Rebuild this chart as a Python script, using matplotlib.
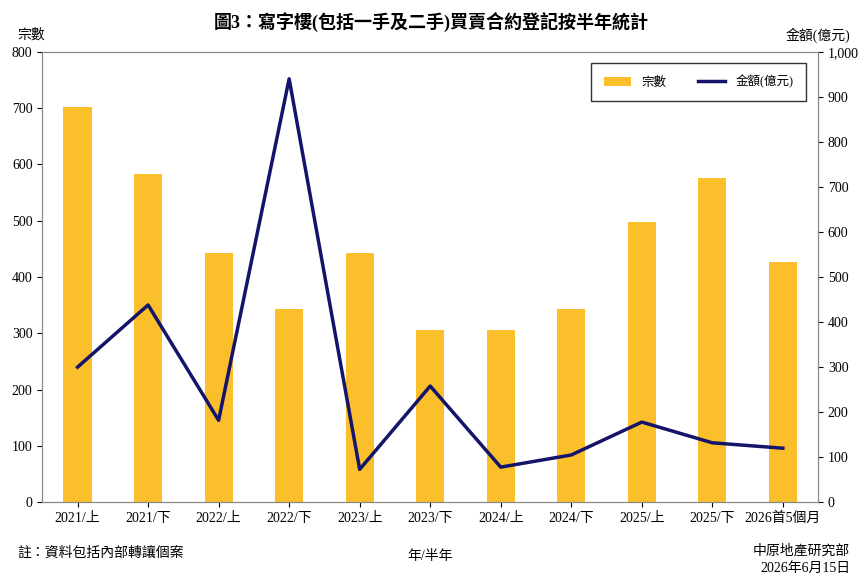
import matplotlib
matplotlib.use("Agg")
import matplotlib.pyplot as plt
from matplotlib.ticker import FuncFormatter

plt.rcParams['font.family'] = ['Liberation Serif', 'Noto Sans CJK TC', 'DejaVu Sans']

categories = ["2021/上", "2021/下", "2022/上", "2022/下", "2023/上", "2023/下",
              "2024/上", "2024/下", "2025/上", "2025/下", "2026首5個月"]
counts = [702, 583, 442, 343, 443, 306, 306, 344, 498, 576, 427]
amounts = [300, 438, 182, 940, 73, 258, 78, 105, 178, 132, 120]

fig = plt.figure(figsize=(8.63, 5.82), dpi=100)
ax = fig.add_axes([0.049, 0.137, 0.899, 0.774])
x = range(len(categories))
ax.bar(x, counts, width=0.4, color="#FBBF2B", label="宗數", zorder=2)
ax.set_ylim(0, 800)
ax.set_yticks(range(0, 801, 100))
ax.set_xlim(-0.5, len(categories) - 0.5)
ax.set_xticks(list(x))
ax.set_xticklabels(categories, fontsize=10)
ax.tick_params(labelsize=10, direction='out')
ax.set_xlabel("年/半年", fontsize=10, labelpad=18)

ax2 = ax.twinx()
ax2.plot(list(x), amounts, color="#14146B", lw=2.5, label="金額(億元)", zorder=3)
ax2.set_ylim(0, 1000)
ax2.set_yticks(range(0, 1001, 100))
ax2.yaxis.set_major_formatter(FuncFormatter(lambda v, p: f"{int(v):,}"))
ax2.tick_params(labelsize=10)

for a in (ax, ax2):
    for s in a.spines.values():
        s.set_color("#888888")

h1, l1 = ax.get_legend_handles_labels()
h2, l2 = ax2.get_legend_handles_labels()
leg = ax2.legend(h1 + h2, l1 + l2, loc="upper right", bbox_to_anchor=(0.992, 0.99),
                 ncol=2, frameon=True, fancybox=False, edgecolor="black",
                 fontsize=9, borderpad=1.0, columnspacing=2.5, handlelength=2.2)

fig.text(0.5, 0.962, "圖3：寫字樓(包括一手及二手)買賣合約登記按半年統計",
         ha="center", va="center", fontsize=13, fontweight="bold")
fig.text(0.02, 0.94, "宗數", fontsize=10, va="center")
fig.text(0.985, 0.94, "金額(億元)", fontsize=10, va="center", ha="right")
fig.text(0.02, 0.05, "註：資料包括內部轉讓個案", fontsize=10, va="center")
fig.text(0.985, 0.053, "中原地產研究部", fontsize=10, va="center", ha="right")
fig.text(0.985, 0.024, "2026年6月15日", fontsize=10, va="center", ha="right")

fig.savefig("out.png", dpi=100)
